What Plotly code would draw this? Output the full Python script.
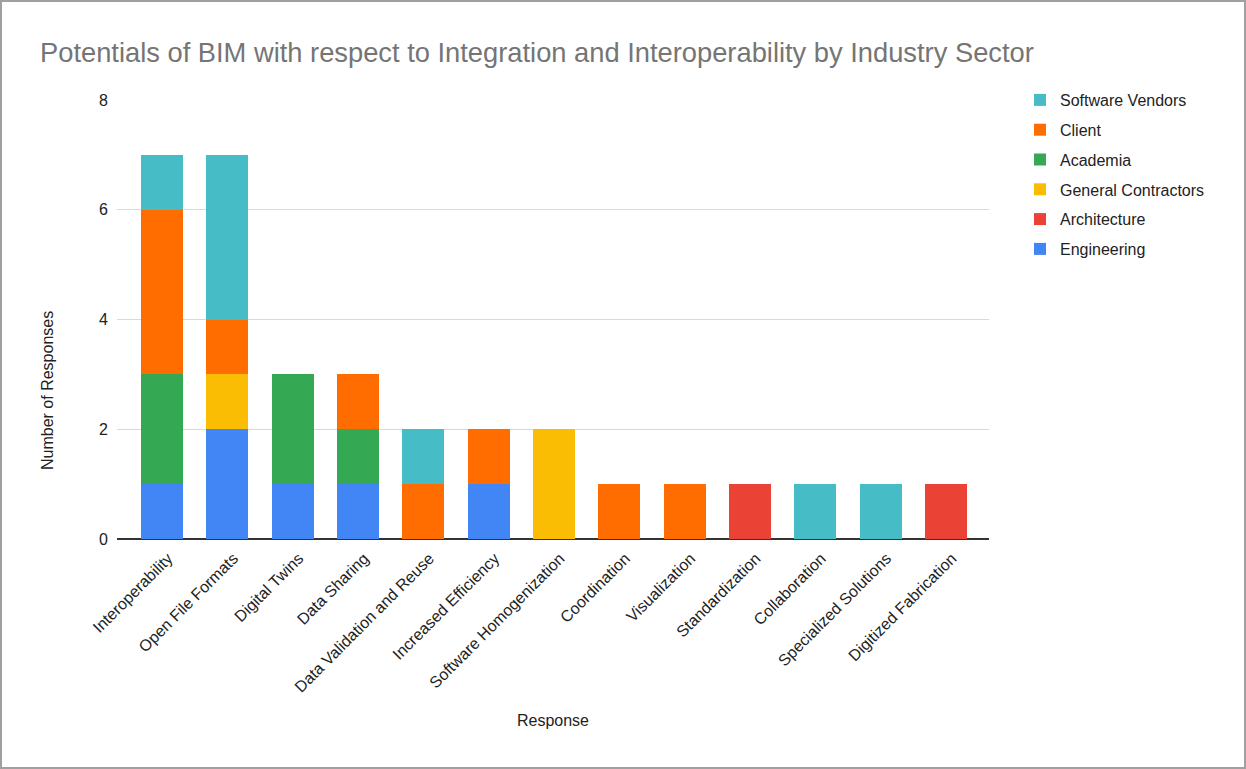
import plotly.graph_objects as go

categories = ["Interoperability", "Open File Formats", "Digital Twins", "Data Sharing",
              "Data Validation and Reuse", "Increased Efficiency", "Software Homogenization",
              "Coordination", "Visualization", "Standardization", "Collaboration",
              "Specialized Solutions", "Digitized Fabrication"]

engineering = [1, 2, 1, 1, 0, 1, 0, 0, 0, 0, 0, 0, 0]
architecture = [0, 0, 0, 0, 0, 0, 0, 0, 0, 1, 0, 0, 1]
general_contractors = [0, 1, 0, 0, 0, 0, 2, 0, 0, 0, 0, 0, 0]
academia = [2, 0, 2, 1, 0, 0, 0, 0, 0, 0, 0, 0, 0]
client = [3, 1, 0, 1, 1, 1, 0, 1, 1, 0, 0, 0, 0]
software_vendors = [1, 3, 0, 0, 1, 0, 0, 0, 0, 0, 1, 1, 0]

series = [
    ("Engineering", engineering, "#4285F4"),
    ("Architecture", architecture, "#EA4335"),
    ("General Contractors", general_contractors, "#FBBC04"),
    ("Academia", academia, "#34A853"),
    ("Client", client, "#FF6D01"),
    ("Software Vendors", software_vendors, "#46BDC6"),
]

W, H = 1246, 769
ml, mr, mt, mb = 117, 257, 100, 230

fig = go.Figure()
n = len(series)
for i, (name, vals, col) in enumerate(series):
    fig.add_trace(go.Bar(x=categories, y=vals, name=name, legendgroup=name,
                         legendrank=1000 + (n - i),
                         marker=dict(color=col, line=dict(width=0))))

pw = W - ml - mr
ph = H - mt - mb
fig.add_shape(type="rect", xref="paper", yref="paper",
              x0=-(ml - 1) / pw, x1=1 + (mr - 1) / pw,
              y0=-(mb - 1) / ph, y1=1 + (mt - 1) / ph,
              line=dict(color="#a0a0a0", width=2), layer="below")

# y-axis title placed as in the reference (below the plot's vertical centre)
fig.add_annotation(text="Number of Responses", xref="paper", yref="paper",
                   x=-(ml - 47) / pw, y=(539 - 391) / ph, xanchor="center", yanchor="middle",
                   textangle=-90, showarrow=False, font=dict(size=16, color="#222222"))

fig.update_layout(
    width=W, height=H,
    margin=dict(l=ml, r=mr, t=mt, b=mb),
    barmode="stack", bargap=0.357,
    paper_bgcolor="white", plot_bgcolor="white",
    font=dict(family="Liberation Sans, Arial", size=16, color="#222222"),
    title=dict(text="Potentials of BIM with respect to Integration and Interoperability by Industry Sector",
               x=40 / W, xanchor="left", y=1 - 52 / H, yanchor="middle",
               font=dict(size=27.3, color="#757575")),
    legend=dict(traceorder="grouped", x=1 + (1020 - 989) / pw, xanchor="left",
                y=1 + 17 / ph, yanchor="top", font=dict(size=16, color="#222222"),
                itemwidth=30, tracegroupgap=6),
    xaxis=dict(tickangle=-45, showgrid=False, showline=False, ticks="",
               range=[-0.69, 12.66],
               tickfont=dict(size=16, color="#222222"),
               ticklabelstandoff=6, ticklabelshift=6,
               title=dict(text="Response", font=dict(size=16, color="#222222"), standoff=20)),
    yaxis=dict(range=[0, 8], dtick=2, showgrid=True, gridcolor="#d9d9d9", gridwidth=1,
               zeroline=True, zerolinecolor="#333333", zerolinewidth=1.5,
               tickfont=dict(size=16, color="#222222"), ticklabelstandoff=8),
)

fig.write_html("out.html", post_script="document.body.style.margin='0';",
               config={"displayModeBar": False})
